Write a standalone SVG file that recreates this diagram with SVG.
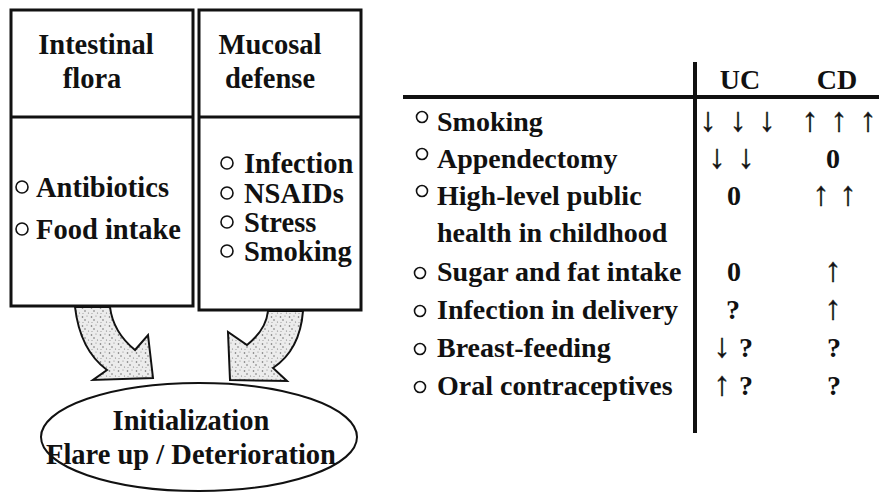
<svg xmlns="http://www.w3.org/2000/svg" width="879" height="496" viewBox="0 0 879 496">
<style>
.t{font-family:"Liberation Serif","Times New Roman",serif;font-weight:bold;font-size:28.5px;fill:#111}
.tt{font-family:"Liberation Serif","Times New Roman",serif;font-weight:bold;font-size:28px;fill:#111}
.a{font-family:"Liberation Serif","DejaVu Serif",serif;font-weight:normal;font-size:34px;fill:#111;stroke:#111;stroke-width:0.4;text-anchor:middle}
.box{fill:#fff;stroke:#111;stroke-width:3}
.rule{stroke:#111;stroke-width:3}
.b{fill:none;stroke:#111;stroke-width:1.6}
.arr{fill:url(#dots);stroke:#111;stroke-width:2;stroke-linejoin:miter}
</style>
<defs>
<pattern id="dots" width="9" height="9" patternUnits="userSpaceOnUse">
<rect width="9" height="9" fill="#ececec"/>
<circle cx="1.5" cy="2" r="0.8" fill="#666"/>
<circle cx="6" cy="1" r="0.6" fill="#888"/>
<circle cx="4" cy="5" r="0.7" fill="#555"/>
<circle cx="7.5" cy="7" r="0.6" fill="#777"/>
<circle cx="2" cy="7.5" r="0.5" fill="#888"/>
</pattern>
</defs>
<rect width="879" height="496" fill="#fff"/>

<g id="intestinal-flora">
<rect class="box" x="11" y="10" width="182" height="296"/>
<line class="rule" x1="11" y1="117" x2="193" y2="117"/>
<text class="t" x="96" y="54" text-anchor="middle">Intestinal</text>
<text class="t" x="92" y="88" text-anchor="middle">flora</text>
<circle class="b" cx="22" cy="187" r="6"/>
<text class="t" x="36" y="197">Antibiotics</text>
<circle class="b" cx="22" cy="229" r="6"/>
<text class="t" x="36" y="239">Food intake</text>
</g>

<g id="mucosal-defense">
<rect class="box" x="199" y="10" width="162" height="300"/>
<line class="rule" x1="199" y1="117" x2="361" y2="117"/>
<text class="t" x="270" y="54" text-anchor="middle">Mucosal</text>
<text class="t" x="270" y="88" text-anchor="middle">defense</text>
<circle class="b" cx="227" cy="163" r="6"/>
<text class="t" x="244" y="173">Infection</text>
<circle class="b" cx="227" cy="193" r="6"/>
<text class="t" x="244" y="203">NSAIDs</text>
<circle class="b" cx="227" cy="222" r="6"/>
<text class="t" x="244" y="232">Stress</text>
<circle class="b" cx="227" cy="251" r="6"/>
<text class="t" x="244" y="261">Smoking</text>
</g>

<g id="connectors">
<path class="arr" d="M75,307 Q80,350 107,370 L93,380 L153,378 L148,335 L135,350 Q113,332 110,307 Z"/>
<path class="arr" d="M303,311 Q300,350 273,368 L287,381 L230,380 L228,332 L247,345 Q266,330 268,311 Z"/>
</g>

<g id="outcome">
<ellipse cx="199" cy="437" rx="158" ry="54" fill="#fff" stroke="#111" stroke-width="2"/>
<text class="t" x="191" y="430" text-anchor="middle">Initialization</text>
<text class="t" x="191" y="464" text-anchor="middle">Flare up / Deterioration</text>
</g>

<g id="risk-table">
<line x1="403" y1="97" x2="879" y2="97" stroke="#111" stroke-width="4"/>
<line x1="695" y1="62" x2="695" y2="433" stroke="#111" stroke-width="4"/>
<text class="tt" x="740" y="89" text-anchor="middle">UC</text>
<text class="tt" x="837" y="89" text-anchor="middle">CD</text>

<circle class="b" cx="422" cy="117" r="5.5"/>
<text class="tt" x="437" y="131">Smoking</text>
<text class="a" x="708" y="131">↓</text><text class="a" x="738" y="131">↓</text><text class="a" x="767" y="131">↓</text>
<text class="a" x="810" y="131">↑</text><text class="a" x="839" y="131">↑</text><text class="a" x="868" y="131">↑</text>

<circle class="b" cx="422" cy="154" r="5.5"/>
<text class="tt" x="437" y="168">Appendectomy</text>
<text class="a" x="717" y="168">↓</text><text class="a" x="746" y="168">↓</text>
<text class="tt" x="833" y="168" text-anchor="middle">0</text>

<circle class="b" cx="422" cy="191" r="5.5"/>
<text class="tt" x="437" y="205">High-level public</text>
<text class="tt" x="437" y="242">health in childhood</text>
<text class="tt" x="734" y="205" text-anchor="middle">0</text>
<text class="a" x="821" y="205">↑</text><text class="a" x="848" y="205">↑</text>

<circle class="b" cx="420" cy="273" r="5.5"/>
<text class="tt" x="437" y="281">Sugar and fat intake</text>
<text class="tt" x="734" y="281" text-anchor="middle">0</text>
<text class="a" x="833" y="281">↑</text>

<circle class="b" cx="420" cy="311" r="5.5"/>
<text class="tt" x="437" y="319">Infection in delivery</text>
<text class="tt" x="733" y="319" text-anchor="middle">?</text>
<text class="a" x="833" y="319">↑</text>

<circle class="b" cx="420" cy="349" r="5.5"/>
<text class="tt" x="437" y="357">Breast-feeding</text>
<text class="a" x="722" y="357">↓</text>
<text class="tt" x="746" y="357" text-anchor="middle">?</text>
<text class="tt" x="834" y="357" text-anchor="middle">?</text>

<circle class="b" cx="420" cy="387" r="5.5"/>
<text class="tt" x="437" y="395">Oral contraceptives</text>
<text class="a" x="722" y="395">↑</text>
<text class="tt" x="746" y="395" text-anchor="middle">?</text>
<text class="tt" x="834" y="395" text-anchor="middle">?</text>
</g>
</svg>
